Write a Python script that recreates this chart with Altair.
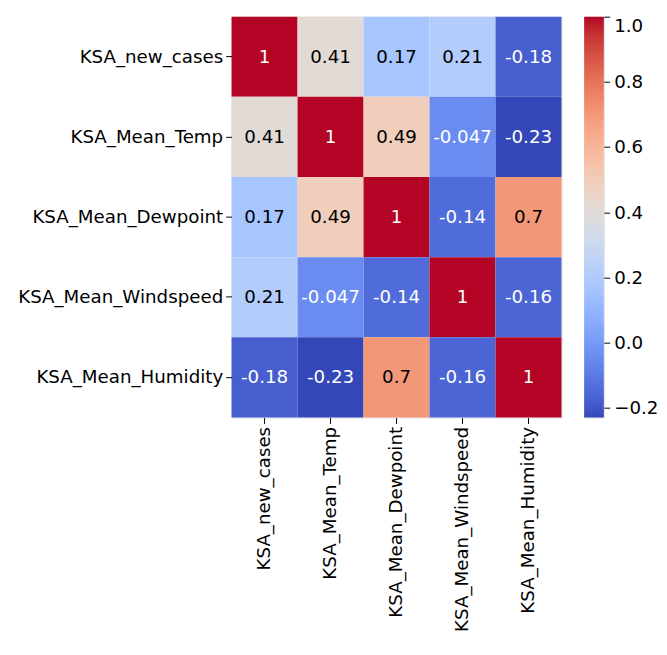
import altair as alt
import pandas as pd

variables = ["KSA_new_cases", "KSA_Mean_Temp", "KSA_Mean_Dewpoint",
             "KSA_Mean_Windspeed", "KSA_Mean_Humidity"]
row_new_cases = [1, 0.41, 0.17, 0.21, -0.18]
row_mean_temp = [0.41, 1, 0.49, -0.047, -0.23]
row_mean_dewpoint = [0.17, 0.49, 1, -0.14, 0.7]
row_mean_windspeed = [0.21, -0.047, -0.14, 1, -0.16]
row_mean_humidity = [-0.18, -0.23, 0.7, -0.16, 1]
colorbar_ticks = [-0.2, 0.0, 0.2, 0.4, 0.6, 0.8, 1.0]

# matplotlib "coolwarm" colormap anchor colours
coolwarm = [
    "#3447b8", "#445acc", "#4d68d7", "#5775e1", "#6282ea", "#6c8ef1", "#779af7",
    "#82a5fb", "#8db0fe", "#98b9ff", "#a3c2ff", "#aec9fd", "#b8d0f9", "#c2d5f4",
    "#ccd9ee", "#d5dbe6", "#dddddd", "#e5d8d1", "#ecd3c5", "#f1ccb8", "#f5c4ac",
    "#f7bba0", "#f7b194", "#f7a687", "#f49a7b", "#f18d6f", "#ec7f63", "#e57058",
    "#de604d", "#d55042", "#cb3e38", "#c0282f", "#b40426",
]

rows = [row_new_cases, row_mean_temp, row_mean_dewpoint,
        row_mean_windspeed, row_mean_humidity]
records = []
for r, vals in zip(variables, rows):
    for c, v in zip(variables, vals):
        records.append({"row": r, "col": c, "value": v, "label": format(v, ".2g")})
df = pd.DataFrame(records)

vmin = min(min(r) for r in rows)
vmax = max(max(r) for r in rows)
n = len(coolwarm)
stops = [vmin + (vmax - vmin) * i / (n - 1) for i in range(n)]

FONT = "DejaVu Sans"
FS = 18.5

color_scale = alt.Scale(domain=stops, range=coolwarm, interpolate="rgb")

base = alt.Chart(df).encode(
    x=alt.X("col:N", sort=variables, title=None,
            axis=alt.Axis(labelAngle=-90, domain=False, tickSize=6, tickColor="black",
                          labelFont=FONT, labelFontSize=FS, labelColor="black",
                          labelPadding=3, labelLimit=400, grid=False)),
    y=alt.Y("row:N", sort=variables, title=None,
            axis=alt.Axis(domain=False, tickSize=6, tickColor="black",
                          labelFont=FONT, labelFontSize=FS, labelColor="black",
                          labelPadding=3, labelLimit=400, grid=False)),
)

rects = base.mark_rect().encode(
    color=alt.Color("value:Q", scale=color_scale, legend=None)
)

texts = base.mark_text(font=FONT, fontSize=FS).encode(
    text="label:N",
    color=alt.condition("datum.value < 0 || datum.value > 0.8",
                        alt.value("white"), alt.value("black")),
)

heat = (rects + texts).properties(width=335, height=407)

cb_df = pd.DataFrame({"lo": [vmin], "hi": [vmax]})
gradient = alt.LinearGradient(
    gradient="linear",
    stops=[alt.GradientStop(offset=i / (n - 1), color=c) for i, c in enumerate(coolwarm)],
    x1=0, x2=0, y1=1, y2=0,
)
colorbar = alt.Chart(cb_df).mark_rect(color=gradient).encode(
    y=alt.Y("lo:Q", scale=alt.Scale(domain=[vmin, vmax], nice=False, zero=False),
            title=None,
            axis=alt.Axis(orient="right", values=colorbar_ticks, format=".1f",
                          domain=False, grid=False, tickSize=6, tickColor="black",
                          labelFont=FONT, labelFontSize=FS, labelColor="black",
                          labelPadding=4, labelFlush=True)),
    y2="hi:Q",
    x=alt.value(0),
    x2=alt.value(20),
).properties(width=20, height=407)

chart = alt.hconcat(heat, colorbar, spacing=21).properties(
    padding={"left": 9, "top": 3, "right": 0, "bottom": 0}
).configure_view(stroke=None).configure(background="white")

chart.save("out.html", embed_options={"renderer": "svg", "actions": False})
